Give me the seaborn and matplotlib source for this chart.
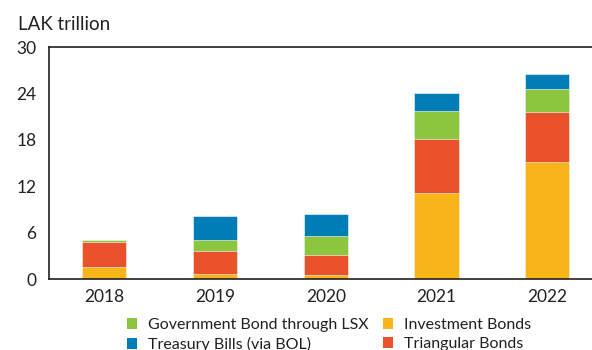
import numpy as np
import pandas as pd
import matplotlib
matplotlib.use("Agg")
import matplotlib.pyplot as plt
import seaborn as sns
from matplotlib.patches import Patch
from matplotlib.ticker import FixedLocator

years = ["2018", "2019", "2020", "2021", "2022"]
investment = [1.6, 0.7, 0.5, 11.2, 15.1]
triangular = [3.2, 2.9, 2.65, 6.9, 6.5]
gov_lsx = [0.3, 1.5, 2.5, 3.6, 2.95]
treasury = [0.0, 3.05, 2.8, 2.3, 1.95]

series_names = ["Investment Bonds", "Triangular Bonds",
                "Government Bond through LSX", "Treasury Bills (via BOL)"]
series_values = [investment, triangular, gov_lsx, treasury]
colors = ["#F9B41A", "#E9512B", "#8CC63F", "#007DB7"]

sns.set_theme(style="white")
plt.rcParams["font.family"] = ["Lato", "DejaVu Sans"]

fig = plt.figure(figsize=(5.92, 3.5), dpi=100)
ax = fig.add_axes([49 / 592, 70.7 / 350, 553.5 / 592, 232.3 / 350])

# stacked bars: draw cumulative totals from the top layer downward
cum = np.cumsum(np.array(series_values), axis=0)
for i in range(len(series_names) - 1, -1, -1):
    df = pd.DataFrame({"year": years, "value": cum[i]})
    sns.barplot(data=df, x="year", y="value", color=colors[i], width=0.4,
                saturation=1, ax=ax, edgecolor="white", linewidth=0.4)

ax.set_xlim(-0.5, 4.5)
ax.set_ylim(0, 30)
ax.set_yticks([0, 6, 12, 18, 24, 30])
ax.set_xlabel("")
ax.set_ylabel("")

for side in ["left", "bottom", "top"]:
    ax.spines[side].set_visible(True)
    ax.spines[side].set_color("#231F20")
    ax.spines[side].set_linewidth(1.2)
ax.spines["right"].set_visible(False)

ax.tick_params(axis="y", direction="in", length=3, width=0.8, color="#666666",
               labelsize=12.5, labelcolor="#231F20", pad=9)
ax.tick_params(axis="x", which="major", length=0, labelsize=12.5,
               labelcolor="#231F20", pad=7)
ax.xaxis.set_minor_locator(FixedLocator([0.5, 1.5, 2.5, 3.5]))
ax.tick_params(axis="x", which="minor", direction="in", length=3, width=0.8,
               color="#666666")

fig.text(18 / 592, 1 - 30 / 350, "LAK trillion", fontsize=13.5,
         color="#231F20", ha="left", va="baseline")

# legend in two columns, each placed on its own
legend_cols = [([2, 3], 119), ([0, 1], 375)]
for idx, x_px in legend_cols:
    handles = [Patch(facecolor=colors[i], edgecolor="none") for i in idx]
    labels = [series_names[i] for i in idx]
    fig.legend(handles, labels, ncol=1, loc="upper left",
               bbox_to_anchor=(x_px / 592, 1 - 310 / 350), frameon=False,
               fontsize=11.5, handlelength=0.62, handleheight=0.62,
               handletextpad=0.7, labelspacing=0.32,
               borderpad=0, labelcolor="#231F20")

fig.savefig("out.png", dpi=100)
